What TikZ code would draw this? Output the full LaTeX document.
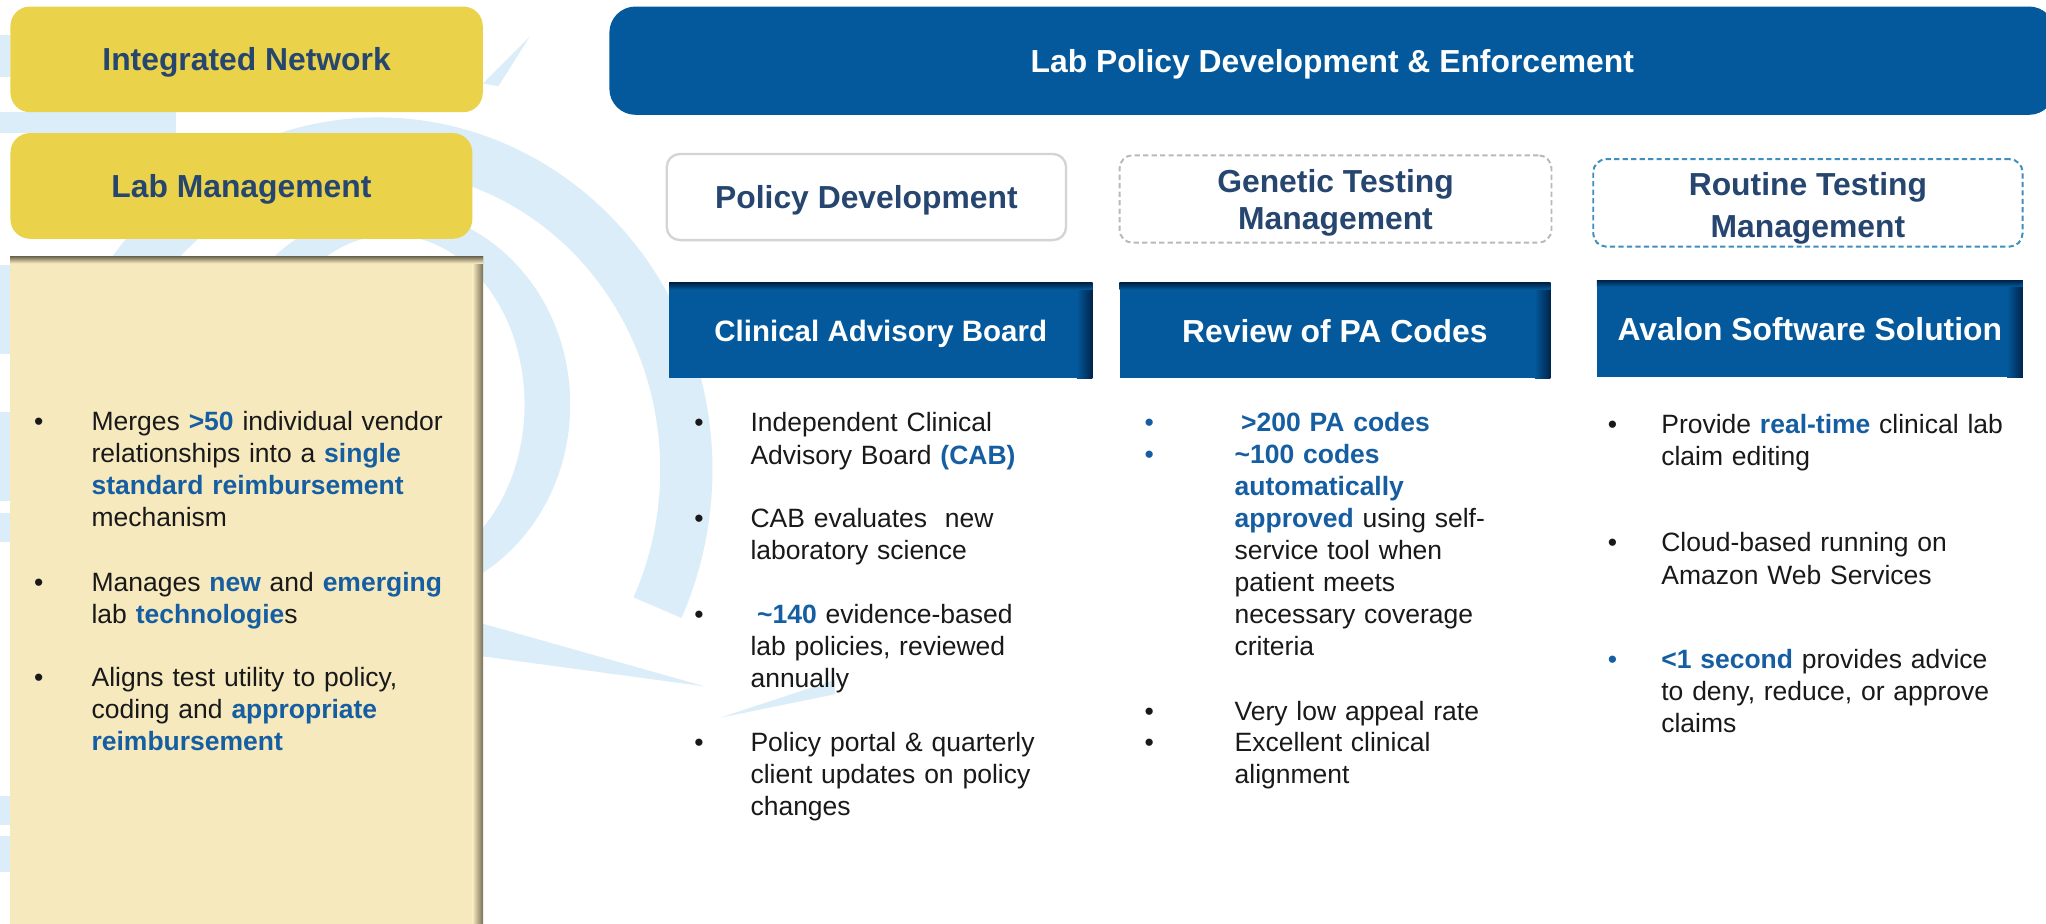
\documentclass[tikz,border=0pt]{standalone}
\usepackage{fontspec}
\setmainfont{Liberation Sans}
\definecolor{yel}{RGB}{234,210,74}
\definecolor{tanc}{RGB}{246,233,190}
\definecolor{shadowc}{RGB}{118,110,88}
\definecolor{navy}{RGB}{38,70,112}
\definecolor{boxblue}{RGB}{3,89,155}
\definecolor{deepblue}{RGB}{0,36,74}
\definecolor{hl}{RGB}{22,94,162}
\definecolor{bodyc}{RGB}{25,25,25}
\definecolor{wm}{RGB}{218,237,248}
\definecolor{dashgray}{RGB}{185,185,185}
\definecolor{dashblue}{RGB}{62,142,192}
\definecolor{pdgray}{RGB}{212,212,212}
\newcommand\hlt[1]{{\bfseries\color{hl}#1}}
\newcommand\bodyfont{\fontsize{20.3}{24.6}\selectfont}
\newcommand\headfont{\fontsize{24.4}{29}\selectfont\bfseries}
\begin{document}
\begin{tikzpicture}[x=1pt,y=-1pt,
  ybox/.style={fill=yel, rounded corners=15pt, inner sep=0, font=\headfont, text=navy, text height=17.8pt, text depth=0pt},
  bluebar/.style={fill=boxblue, inner sep=0, font=\headfont, text=white, text height=17.8pt, text depth=0pt},
  outline/.style={rounded corners=10pt, fill=white, inner sep=0},
  headtxt/.style={inner sep=0, font=\headfont, text=navy, align=center},
  bul/.style={anchor=base west, inner sep=0, font=\bodyfont, text=bodyc},
  txt/.style={anchor=base west, inner sep=0, font=\bodyfont, text=bodyc, text width=300pt, align=left}]
\useasboundingbox (0,0) rectangle (1568,708);
\clip (0,0) rectangle (1568,708);
\fill[white] (0,0) rectangle (1568,708);
% watermark
\draw[wm, line width=40pt] (54,360) arc[start angle=180, end angle=385, x radius=236, y radius=250];
\fill[wm, even odd rule] (300,310) ellipse [x radius=137pt, y radius=150pt]
                         (300,310) ellipse [x radius=102pt, y radius=130pt];
\fill[wm] (370,478) -- (540,526) -- (370,503) -- cycle;
\fill[wm] (552,550) -- (640,521) -- (640,532) -- cycle;
\fill[wm] (370,64) -- (406,28) -- (382,66) -- cycle;
\fill[wm] (0,86) rectangle (135,102);
\fill[wm] (0,27) rectangle (8,59);
\fill[wm] (0,203) rectangle (8,271);
\fill[wm] (0,316) rectangle (8,384);
\fill[wm] (0,393) rectangle (8,415);
\fill[wm] (0,610) rectangle (8,632);
\fill[wm] (0,641) rectangle (8,668);

% top row
\node[ybox, minimum width=362pt, minimum height=81pt] (intnet) at (189,45.5) {Integrated Network};
\node[ybox, minimum width=354pt, minimum height=81pt] (labmgmt) at (185,142.5) {Lab Management};
\node[fill=boxblue, rounded corners=20pt, inner sep=0, minimum width=1108pt, minimum height=83pt,
      font=\headfont, text=white, text height=17.8pt, text depth=0pt] (lpd) at (1021,46.5) {Lab Policy Development \& Enforcement};

% left panel
\node[fill=tanc, inner sep=0, minimum width=362pt, minimum height=523pt] (panel) at (189,458.5) {};
\fill[left color=tanc, right color=shadowc] ([xshift=-8pt]panel.north east) rectangle (panel.south east);
\fill[top color=shadowc, bottom color=tanc] (panel.north west) rectangle ([yshift=-5pt]panel.north east);

% sub headers
\node[outline, draw=pdgray, line width=1.8pt, minimum width=306pt, minimum height=66pt,
      font=\headfont, text=navy, text height=17.8pt, text depth=0pt] (poldev) at (664,151) {Policy Development};
\node[outline, draw=dashgray, line width=1.5pt, dash pattern=on 4pt off 2.5pt, minimum width=331pt, minimum height=67pt] (gen) at (1023.5,152.5) {};
\node[headtxt] (gentxt) at ([yshift=-3pt]gen.center) {Genetic Testing\\Management};
\node[outline, draw=dashblue, line width=1.5pt, dash pattern=on 4pt off 2.5pt, minimum width=329pt, minimum height=67pt] (rout) at (1385.5,155.5) {};
\node[headtxt, font={\fontsize{24.4}{32}\selectfont\bfseries}] (routtxt) at ([yshift=-4pt]rout.center) {Routine Testing\\Management};

% blue column headers
\node[bluebar, minimum width=324pt, minimum height=73pt, font={\fontsize{22.6}{27}\selectfont\bfseries}, text height=16.5pt] (cab) at (675,253.5) {Clinical Advisory Board};
\node[bluebar, minimum width=330pt, minimum height=73pt] (pac) at (1023,253.5) {Review of PA Codes};
\node[bluebar, minimum width=326pt, minimum height=74pt] (ava) at (1387,252) {Avalon Software Solution};
\foreach \b in {cab,pac,ava}{
  \fill[left color=boxblue, right color=deepblue] ([xshift=-12pt]\b.north east) rectangle (\b.south east);
  \fill[top color=deepblue, bottom color=boxblue] (\b.north west) rectangle ([yshift=-5pt]\b.north east);
}

% left panel bullets
\node[bul] (lb1) at (26,330) {\textbullet};
\node[txt] (lt1) at (70,330) {Merges \hlt{>50} individual vendor\\relationships into a \hlt{single}\\\hlt{standard reimbursement}\\mechanism};
\node[bul] (lb2) at (26,453) {\textbullet};
\node[txt] (lt2) at (70,453) {Manages \hlt{new} and \hlt{emerging}\\lab \hlt{technologie}s};
\node[bul] (lb3) at (26,526) {\textbullet};
\node[txt] (lt3) at (70,526) {Aligns test utility to policy,\\coding and \hlt{appropriate}\\\hlt{reimbursement}};

% CAB column
\node[bul] (cb1) at (532,331) {\textbullet};
\node[txt] (ct1) at (575,331) {Independent Clinical\\Advisory Board \hlt{(CAB)}};
\node[bul] (cb2) at (532,404) {\textbullet};
\node[txt] (ct2) at (575,404) {CAB evaluates \ new\\laboratory science};
\node[bul] (cb3) at (532,478) {\textbullet};
\node[txt] (ct3) at (575,478) {\hspace{5pt}\hlt{\textasciitilde140} evidence-based\\lab policies, reviewed\\annually};
\node[bul] (cb4) at (532,576) {\textbullet};
\node[txt] (ct4) at (575,576) {Policy portal \& quarterly\\client updates on policy\\changes};

% PA codes column
\node[bul, text=hl] (rb1) at (877,331) {\textbullet};
\node[txt] (rt1) at (946,331) {\hspace{5pt}\hlt{>200 PA codes}};
\node[bul, text=hl] (rb2) at (877,355) {\textbullet};
\node[txt] (rt2) at (946,355) {\hlt{\textasciitilde100 codes}\\\hlt{automatically}\\\hlt{approved} using self-\\service tool when\\patient meets\\necessary coverage\\criteria};
\node[bul] (rb3) at (877,552) {\textbullet};
\node[txt] (rt3) at (946,552) {Very low appeal rate};
\node[bul] (rb4) at (877,576) {\textbullet};
\node[txt] (rt4) at (946,576) {Excellent clinical\\alignment};

% Avalon column
\node[bul] (ab1) at (1232,332) {\textbullet};
\node[txt] (at1) at (1273,332) {Provide \hlt{real-time} clinical lab\\claim editing};
\node[bul] (ab2) at (1232,423) {\textbullet};
\node[txt] (at2) at (1273,423) {Cloud-based running on\\Amazon Web Services};
\node[bul, text=hl] (ab3) at (1232,512) {\textbullet};
\node[txt] (at3) at (1273,512) {\hlt{<1 second} provides advice\\to deny, reduce, or approve\\claims};
\end{tikzpicture}
\end{document}
